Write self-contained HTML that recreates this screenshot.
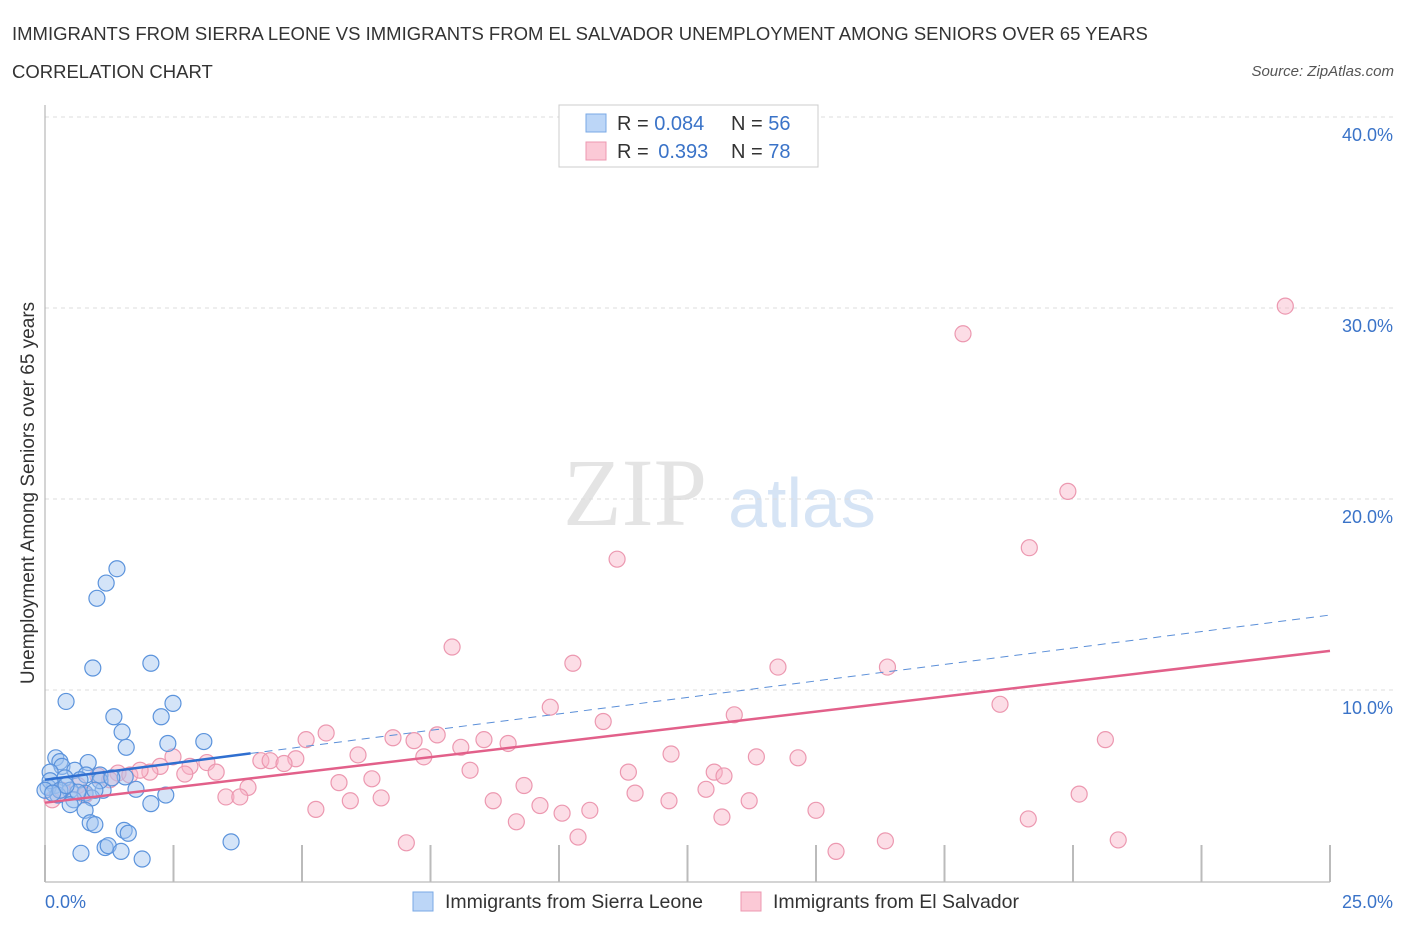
<!DOCTYPE html>
<html><head><meta charset="utf-8"><style>
body{margin:0;background:#fff;font-family:"Liberation Sans",sans-serif;}
</style></head><body>
<svg id="c" width="1406" height="930" xmlns="http://www.w3.org/2000/svg">
<text x="12" y="40" font-size="18.5" fill="#333">IMMIGRANTS FROM SIERRA LEONE VS IMMIGRANTS FROM EL SALVADOR UNEMPLOYMENT AMONG SENIORS OVER 65 YEARS</text>
<text x="12" y="78" font-size="18.5" fill="#333">CORRELATION CHART</text>
<text x="1394" y="76" font-size="15" fill="#555" font-style="italic" text-anchor="end">Source: ZipAtlas.com</text>
<text x="635" y="525" font-size="96" fill="#e4e4e4" font-family="Liberation Serif" text-anchor="middle">ZIP</text>
<text x="802" y="527" font-size="70" fill="#d6e4f5" text-anchor="middle">atlas</text>
<g id="grid"></g><g id="pts"></g><g id="lines"></g>
<text transform="translate(34,493) rotate(-90)" font-size="19" fill="#333" text-anchor="middle">Unemployment Among Seniors over 65 years</text>
<text x="45" y="908" font-size="18" fill="#3a73c8">0.0%</text>
<text x="1393" y="908" font-size="18" fill="#3a73c8" text-anchor="end">25.0%</text>
<g>
<rect x="559" y="105" width="259" height="62" fill="#fff" stroke="#ccc"/>
<rect x="586" y="114" width="20" height="18" fill="#bcd6f7" stroke="#7aa8e6"/>
<rect x="586" y="142" width="20" height="18" fill="#fbc9d6" stroke="#ec98b0"/>
<text x="617" y="130" font-size="20" fill="#333">R = <tspan fill="#3a73c8">0.084</tspan></text>
<text x="731" y="130" font-size="20" fill="#333">N = <tspan fill="#3a73c8">56</tspan></text>
<text x="617" y="158" font-size="20" fill="#333">R = <tspan fill="#3a73c8" dx="4">0.393</tspan></text>
<text x="731" y="158" font-size="20" fill="#333">N = <tspan fill="#3a73c8">78</tspan></text>
</g>
<g>
<rect x="413" y="892" width="20" height="19" fill="#bcd6f7" stroke="#7aa8e6"/>
<text x="445" y="908" font-size="19.5" fill="#333">Immigrants from Sierra Leone</text>
<rect x="741" y="892" width="20" height="19" fill="#fbc9d6" stroke="#ec98b0"/>
<text x="773" y="908" font-size="19.5" fill="#333">Immigrants from El Salvador</text>
</g>
</svg>
<script>
const yTicks=[10,20,30,40];
const yTickLabels=["10.0%","20.0%","30.0%","40.0%"];
const blueX=[1.40,1.19,1.01,0.93,2.06,0.41,2.49,1.34,2.26,1.50,2.39,3.09,1.58,0.21,0.29,0.84,0.33,0.58,0.10,0.80,1.07,1.56,0.39,0.68,0.19,0.06,0.49,0.78,1.13,1.77,2.35,0.25,0.91,0.56,0.49,2.06,0.78,0.88,0.97,1.54,1.62,3.62,1.17,1.23,1.48,0.70,1.89,0.10,0.0,0.29,0.64,1.07,1.30,0.97,0.41,0.15];
const blueY=[16.35,15.6,14.8,11.15,11.4,9.4,9.3,8.6,8.6,7.8,7.2,7.3,7.0,6.45,6.25,6.2,6.0,5.8,5.7,5.55,5.55,5.45,5.4,5.3,5.0,4.9,4.75,4.6,4.75,4.8,4.5,4.5,4.35,4.25,4.0,4.05,3.7,3.05,2.95,2.65,2.5,2.05,1.75,1.85,1.55,1.45,1.15,5.25,4.75,4.75,4.65,5.25,5.4,4.75,5.0,4.6];
const pinkX=[24.13,17.86,19.9,19.15,11.13,7.92,10.27,14.26,16.39,18.58,9.83,13.41,10.86,20.63,5.47,5.08,6.77,7.63,7.18,8.54,9.01,8.09,6.09,7.37,12.18,13.84,14.65,2.49,4.88,4.2,4.38,4.65,3.15,2.24,2.82,2.04,2.72,3.33,1.42,1.65,1.03,8.27,11.35,13.02,13.21,6.36,5.72,9.32,12.86,3.95,3.52,3.79,11.48,20.12,6.54,5.94,8.72,12.14,13.70,9.63,10.6,10.06,5.27,15.0,13.17,9.17,19.13,10.37,7.03,16.35,20.88,15.39,0.14,0.33,0.64,0.78,1.26,1.85];
const pinkY=[30.1,28.65,20.4,17.45,16.85,12.25,11.4,11.2,11.2,9.25,9.1,8.7,8.35,7.4,7.75,7.4,7.5,7.65,7.35,7.4,7.2,7.0,6.6,6.5,6.65,6.5,6.45,6.5,6.4,6.3,6.3,6.15,6.2,6.0,6.0,5.7,5.6,5.7,5.65,5.55,5.5,5.8,5.7,5.7,5.5,5.35,5.15,5.0,4.8,4.9,4.4,4.4,4.6,4.55,4.35,4.2,4.2,4.2,4.2,3.95,3.7,3.55,3.75,3.7,3.35,3.1,3.25,2.3,2.0,2.1,2.15,1.55,4.25,4.75,5.0,4.5,5.3,5.8];
const blueTrend=[5.3,0.345];
const pinkTrend=[4.1,0.318];
const NS="http://www.w3.org/2000/svg";
const xs=v=>45+v/25*1285;
const ys=v=>881-v*19.1;
function mk(t,a,p){const e=document.createElementNS(NS,t);for(const k in a)e.setAttribute(k,a[k]);p.appendChild(e);return e;}
const g=document.getElementById('grid');
yTicks.forEach((t,i)=>{
 const l=mk('line',{x1:45,x2:1393,y1:ys(t),y2:ys(t),stroke:'#ddd','stroke-dasharray':'4,4'},g);
 
 
 const tx=mk('text',{x:1393,y:ys(t)+24,'font-size':18,fill:'#3a73c8','text-anchor':'end'},g);
 tx.textContent=yTickLabels[i];
 
 
});
const ax=mk('line',{x1:45,x2:45,y1:105,y2:882,stroke:'#aaa'},g);


const bx=mk('line',{x1:45,x2:1330,y1:882,y2:882,stroke:'#aaa'},g);


for(let i=0;i<=10;i++){
 const t=mk('line',{x1:xs(i*2.5),x2:xs(i*2.5),y1:845,y2:882,stroke:'#bbb','stroke-width':2},g);
 
 
}
const p=document.getElementById('pts');
pinkX.forEach((x,i)=>{
 const c=mk('circle',{cx:xs(x),cy:ys(pinkY[i]),r:8,fill:'rgba(248,180,200,0.45)',stroke:'#ec98b0','stroke-width':1.2},p);
 
 
});
blueX.forEach((x,i)=>{
 const c=mk('circle',{cx:xs(x),cy:ys(blueY[i]),r:8,fill:'rgba(160,196,240,0.45)',stroke:'#5b93dc','stroke-width':1.2},p);
 
 
});
const L=document.getElementById('lines');
const pl=mk('line',{x1:xs(0),y1:ys(pinkTrend[0]),x2:xs(25),y2:ys(pinkTrend[0]+25*pinkTrend[1]),stroke:'#e2608a','stroke-width':2.5},L);


const bd=mk('line',{x1:xs(4),y1:ys(blueTrend[0]+4*blueTrend[1]),x2:xs(25),y2:ys(blueTrend[0]+25*blueTrend[1]),stroke:'#5b8fd8','stroke-width':1,'stroke-dasharray':'8,6'},L);


const bl=mk('line',{x1:xs(0),y1:ys(blueTrend[0]),x2:xs(4),y2:ys(blueTrend[0]+4*blueTrend[1]),stroke:'#2f6fd0','stroke-width':2.5},L);


</script>
</body></html>
